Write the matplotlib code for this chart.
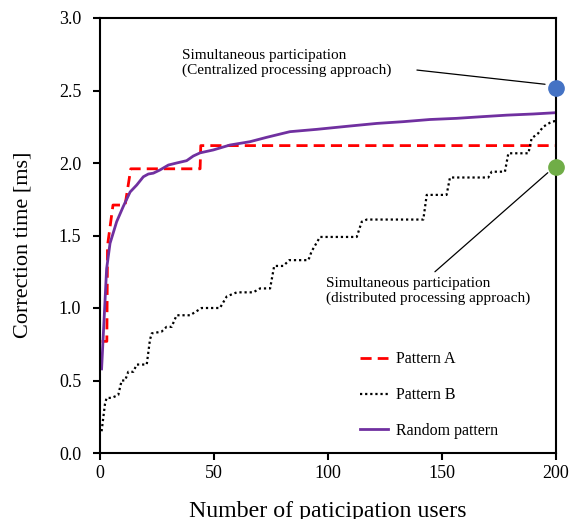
import matplotlib
matplotlib.use("Agg")
import matplotlib.pyplot as plt

plt.rcParams['font.family'] = ['Liberation Serif', 'DejaVu Serif']

# Pattern A (red dashed)
a_x = [0.7, 3.0, 3.3, 5.7, 11.0, 13.5, 43.9, 44.2, 200]
a_y = [0.77, 0.77, 1.43, 1.71, 1.71, 1.96, 1.96, 2.12, 2.12]

# Pattern B (black dotted)
b_x = [0.7, 2.2, 2.9, 5.1, 8.0, 9.5, 11.0, 12.4, 14.6, 16.1, 20.5, 21.9, 22.7, 27.0,
       29.2, 31.4, 33.6, 39.5, 44.6, 52.6, 55.6, 60.0, 67.2, 70.2, 74.6, 76.4, 80.4,
       83.0, 91.4, 92.8, 96.5, 112.6, 114.8, 117.0, 141.8, 143.3, 152.0, 153.5, 170.3,
       171.8, 177.6, 179.1, 187.9, 189.3, 192.2, 194.4, 198.1, 200.0]
b_y = [0.15, 0.34, 0.38, 0.38, 0.40, 0.50, 0.50, 0.56, 0.56, 0.61, 0.61, 0.78, 0.825, 0.837,
       0.87, 0.87, 0.95, 0.95, 1.00, 1.00, 1.08, 1.108, 1.108, 1.135, 1.135, 1.29, 1.29,
       1.33, 1.33, 1.39, 1.49, 1.49, 1.595, 1.61, 1.61, 1.78, 1.78, 1.90, 1.90,
       1.94, 1.94, 2.067, 2.067, 2.17, 2.205, 2.25, 2.285, 2.29]

# Random pattern (purple solid)
r_x = [0.7, 2.2, 2.9, 4.4, 7.3, 10.2, 13.2, 16.1, 19.0, 21.2, 23.4, 26.3, 30.0, 33.6,
       38.0, 40.9, 43.9, 49.7, 57.0, 65.8, 73.1, 80.4, 83.3, 95.0, 109.6, 121.4, 133.0,
       144.7, 156.4, 168.1, 178.4, 190.0, 200.0]
r_y = [0.58, 1.05, 1.27, 1.446, 1.595, 1.70, 1.80, 1.848, 1.905, 1.924, 1.93, 1.952, 1.986,
       2.00, 2.016, 2.048, 2.07, 2.09, 2.124, 2.147, 2.177, 2.205, 2.216, 2.232, 2.255,
       2.273, 2.285, 2.30, 2.308, 2.32, 2.33, 2.338, 2.347]

central_pt = (200, 2.52)
distrib_pt = (200, 1.97)

x_ticks = [0, 50, 100, 150, 200]
y_ticks = [0.0, 0.5, 1.0, 1.5, 2.0, 2.5, 3.0]

fig = plt.figure(figsize=(5.7, 5.19), dpi=100)
ax = fig.add_axes([100/570, 1-453/519, 456/570, 435/519])

ax.plot(a_x, a_y, color='#FF0000', lw=2, linestyle=(0, (4, 2.2)), label='Pattern A')
ax.plot(b_x, b_y, color='black', lw=1.6, linestyle=(0, (1, 1.3)), label='Pattern B')
ax.plot(r_x, r_y, color='#7030A0', lw=2, label='Random pattern')

ax.plot(*central_pt, 'o', color='#4472C4', markersize=11, clip_on=False, zorder=5)
ax.plot(*distrib_pt, 'o', color='#70AD47', markersize=11, clip_on=False, zorder=5)

ax.text(36, 2.69, 'Simultaneous participation\n(Centralized processing approach)',
        fontsize=11, ha='left', va='center', linespacing=1.15)
ax.annotate('', xy=(195.2, 2.543), xytext=(139.0, 2.641),
            arrowprops=dict(arrowstyle='-', color='black', lw=0.9, shrinkA=0, shrinkB=0))
ax.text(99, 1.12, 'Simultaneous participation\n(distributed processing approach)',
        fontsize=11, ha='left', va='center', linespacing=1.15)
ax.annotate('', xy=(196.4, 1.933), xytext=(146.9, 1.25),
            arrowprops=dict(arrowstyle='-', color='black', lw=0.9, shrinkA=0, shrinkB=0))

ax.set_xlim(0, 200)
ax.set_ylim(0, 3.0)
ax.set_xticks(x_ticks)
ax.set_yticks(y_ticks)
ax.set_xticklabels([str(v) for v in x_ticks])
ax.set_yticklabels([f'{v:.1f}' for v in y_ticks])
ax.tick_params(direction='out', length=5, width=1.5, labelsize=13)
ax.tick_params(axis='y', pad=8.5)
for s in ax.spines.values():
    s.set_linewidth(1.5)

ax.set_xlabel('Number of paticipation users', fontsize=17.2, labelpad=14)
ax.set_ylabel('Correction time [ms]', fontsize=16)
ax.yaxis.set_label_coords(-0.147, 0.478)

ax.legend(loc='lower left', bbox_to_anchor=(0.570, 0.032), frameon=False, fontsize=11.5,
          borderpad=0, borderaxespad=0, handlelength=1.75, handletextpad=0.5,
          labelspacing=1.25)

fig.savefig('out.png', dpi=100)
